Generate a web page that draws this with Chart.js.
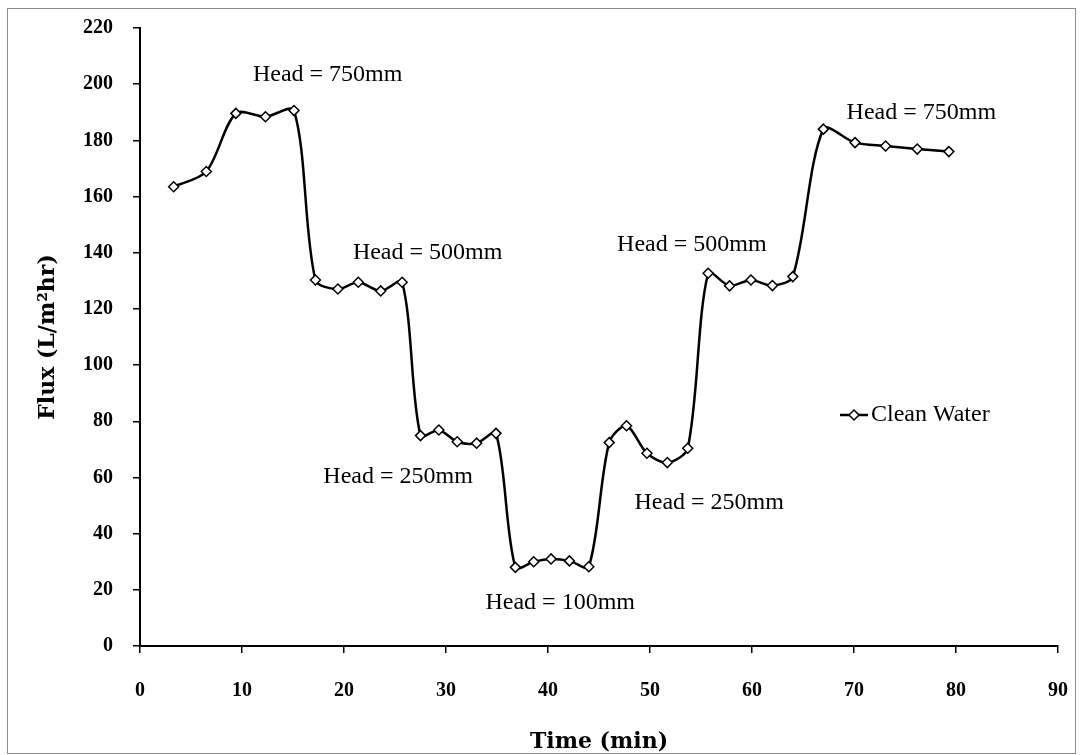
<!doctype html>
<html lang="en">
<head>
  <meta charset="utf-8">
  <title>Flux vs Time</title>
  <script src="https://cdn.jsdelivr.net/npm/chart.js"></script>
  <style>
    html, body {
      margin: 0;
      padding: 0;
      background: #ffffff;
    }
    #wrap {
      width: 1083px;
      height: 755px;
      position: relative;
    }
  </style>
</head>
<body>
  <div id="wrap">
    <canvas id="fluxChart"></canvas>
  </div>

  <script>
    // Datos
    const seriesName = "Clean Water";
    const timeMin = [3.3, 6.5, 9.4, 12.3, 15.1, 17.2, 19.4, 21.4, 23.6, 25.7,
                     27.5, 29.3, 31.1, 33.0, 34.9, 36.8, 38.6, 40.3, 42.1, 44.0,
                     46.0, 47.7, 49.7, 51.7, 53.7, 55.7, 57.8, 59.9, 62.0, 64.0,
                     67.0, 70.1, 73.1, 76.2, 79.3];
    const flux = [163.5, 168.9, 189.6, 188.4, 190.6, 130.3, 127.1, 129.5, 126.4, 129.5,
                  74.9, 76.9, 72.7, 72.2, 75.7, 28.0, 30.0, 31.0, 30.3, 28.2,
                  72.4, 78.4, 68.6, 65.3, 70.4, 132.7, 128.2, 130.3, 128.3, 131.5,
                  184.0, 179.2, 178.0, 176.9, 176.0];

    // Etiquetas de carga hidráulica (texto, x, y en unidades de datos)
    const headText = ["Head = 750mm", "Head = 500mm", "Head = 250mm", "Head = 100mm",
                      "Head = 250mm", "Head = 500mm", "Head = 750mm"];
    const headX = [18.4, 28.2, 25.3, 41.2, 55.8, 54.1, 76.6];
    const headY = [203.3, 140.0, 60.2, 15.3, 50.9, 142.8, 189.7];

    const serif = "'Liberation Serif', 'DejaVu Serif', serif";
    const wideSerif = "'DejaVu Serif', 'Liberation Serif', serif";

    const points = timeMin.map((t, i) => ({ x: t, y: flux[i] }));

    // Plugin: marco, etiquetas "Head" y leyenda dentro del área
    const extras = {
      id: "extras",
      beforeDraw(chart) {
        const ctx = chart.ctx;
        ctx.save();
        ctx.fillStyle = "#ffffff";
        ctx.fillRect(0, 0, chart.width, chart.height);
        ctx.strokeStyle = "#8c8c8c";
        ctx.lineWidth = 1;
        ctx.strokeRect(7.5, 8.5, chart.width - 15, chart.height - 10);
        ctx.restore();
      },
      afterDatasetsDraw(chart) {
        const ctx = chart.ctx;
        const xs = chart.scales.x, ys = chart.scales.y;
        ctx.save();
        ctx.fillStyle = "#000";
        ctx.font = "24px " + serif;
        ctx.textAlign = "center";
        ctx.textBaseline = "middle";
        headText.forEach((txt, i) => {
          ctx.fillText(txt, xs.getPixelForValue(headX[i]), ys.getPixelForValue(headY[i]));
        });

        // leyenda
        const area = chart.chartArea;
        const lx = area.left + 700, ly = area.top + 387;
        ctx.strokeStyle = "#000";
        ctx.lineWidth = 2.5;
        ctx.beginPath();
        ctx.moveTo(lx, ly);
        ctx.lineTo(lx + 28, ly);
        ctx.stroke();
        const ds = chart.data.datasets[0];
        ctx.fillStyle = "#fff";
        ctx.lineWidth = 1.5;
        ctx.beginPath();
        ctx.moveTo(lx + 14, ly - 5);
        ctx.lineTo(lx + 19, ly);
        ctx.lineTo(lx + 14, ly + 5);
        ctx.lineTo(lx + 9, ly);
        ctx.closePath();
        ctx.fill();
        ctx.stroke();
        ctx.fillStyle = "#000";
        ctx.textAlign = "left";
        ctx.fillText(ds.label, lx + 31, ly);
        ctx.restore();
      }
    };

    new Chart(document.getElementById("fluxChart"), {
      type: "scatter",
      data: {
        datasets: [{
          label: seriesName,
          data: points,
          showLine: true,
          borderColor: "#000",
          borderWidth: 2.5,
          tension: 0.3,
          pointStyle: "rectRot",
          pointRadius: 5,
          pointBorderWidth: 1.5,
          pointBackgroundColor: "#fff",
          pointBorderColor: "#000"
        }]
      },
      options: {
        responsive: true,
        maintainAspectRatio: false,
        animation: false,
        layout: { padding: { left: 0, top: 28, right: 25, bottom: 0 } },
        plugins: {
          legend: { display: false },
          tooltip: { enabled: false }
        },
        scales: {
          x: {
            type: "linear",
            min: 0,
            max: 90,
            ticks: {
              stepSize: 10,
              color: "#000",
              padding: 26,
              font: { family: serif, size: 20, weight: "bold" }
            },
            grid: { drawOnChartArea: false, drawTicks: true, tickLength: 7, color: "#000", lineWidth: 1.5 },
            border: { display: true, color: "#000", width: 2 },
            title: {
              display: true,
              text: "Time (min)",
              color: "#000",
              padding: { top: 12, bottom: 0 },
              font: { family: wideSerif, size: 22, weight: "bold" }
            },
            afterFit(scale) {
              scale.height = 109;
              scale.paddingLeft = 0;
              scale.paddingRight = 0;
            }
          },
          y: {
            min: 0,
            max: 220,
            ticks: {
              stepSize: 20,
              color: "#000",
              padding: 20,
              font: { family: serif, size: 20, weight: "bold" }
            },
            grid: { drawOnChartArea: false, drawTicks: true, tickLength: 7, color: "#000", lineWidth: 1.5 },
            border: { display: true, color: "#000", width: 2 },
            title: {
              display: true,
              text: "Flux (L/m²hr)",
              color: "#000",
              padding: { top: 35, bottom: 0 },
              font: { family: wideSerif, size: 22, weight: "bold" }
            },
            afterFit(scale) {
              scale.width = 140;
              scale.paddingTop = 0;
              scale.paddingBottom = 0;
            }
          }
        }
      },
      plugins: [extras]
    });
  </script>
</body>
</html>
